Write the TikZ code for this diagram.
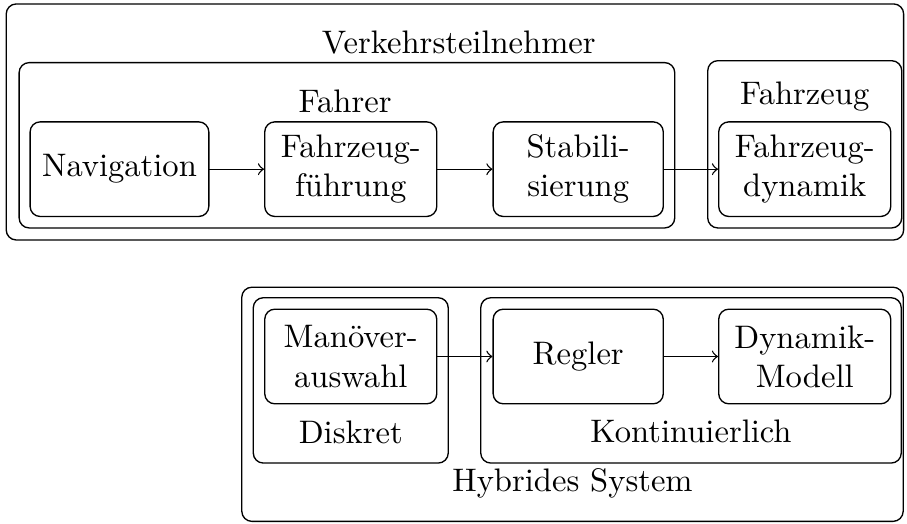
\documentclass[tikz,border=0pt]{standalone}
\usetikzlibrary{arrows}
\begin{document}
\begin{tikzpicture}[>=to, font=\fontsize{9.7}{11.65}\selectfont, line join=round, line cap=round,
	blk/.style={draw, rounded corners=3pt, align=center, inner sep=0pt, minimum width=1.8cm, minimum height=0.99cm},
	grp/.style={draw, rounded corners=3pt, inner sep=0pt}]
	\def\yo{-1.77} \def\yu{-3.73}
	\useasboundingbox (0,0) rectangle (9.49,-5.48);
	%	oben
	\node[grp, minimum width=9.39cm, minimum height=2.47cm] (vt) at (4.76,-1.276) {};
	\node[grp, minimum width=6.86cm, minimum height=1.73cm] (fahrer) at (3.63,-1.52) {};
	\node[grp, minimum width=2.03cm, minimum height=1.75cm] (fzg) at (8.42,-1.51) {};
	\node (vtlbl) at (4.80,-0.45) {Verkehrsteilnehmer};
	\node (fahrerlbl) at (3.61,-1.06) {Fahrer};
	\node (fzglbl) at (8.42,-1.01) {Fahrzeug};
	\node[blk, minimum width=1.87cm] (nav) at (1.25,\yo) {Navigation};
	\node[blk] (fuehr) at (3.67,\yo) {Fahrzeug-\\führung};
	\node[blk, minimum width=1.78cm] (stab) at (6.05,\yo) {Stabili-\\sierung};
	\node[blk] (dyn) at (8.42,\yo) {Fahrzeug-\\dynamik};
	\draw[->] (nav)--(fuehr);
	\draw[->] (fuehr)--(stab);
	\draw[->] (stab)--(dyn);
	%	unten
	\node[grp, minimum width=6.92cm, minimum height=2.45cm] (hyb) at (5.99,-4.23) {};
	\node[grp, minimum width=2.04cm, minimum height=1.73cm] (disk) at (3.67,-3.98) {};
	\node[grp, minimum width=4.40cm, minimum height=1.73cm] (kont) at (7.23,-3.98) {};
	\node (disklbl) at (3.67,-4.52) {Diskret};
	\node (kontlbl) at (7.23,-4.51) {Kontinuierlich};
	\node (hyblbl) at (5.99,-5.06) {Hybrides System};
	\node[blk] (man) at (3.67,\yu) {Manöver-\\auswahl};
	\node[blk, minimum width=1.78cm] (regler) at (6.05,\yu) {Regler};
	\node[blk] (modell) at (8.42,\yu) {Dynamik-\\Modell};
	\draw[->] (man)--(regler);
	\draw[->] (regler)--(modell);
\end{tikzpicture}
\end{document}
